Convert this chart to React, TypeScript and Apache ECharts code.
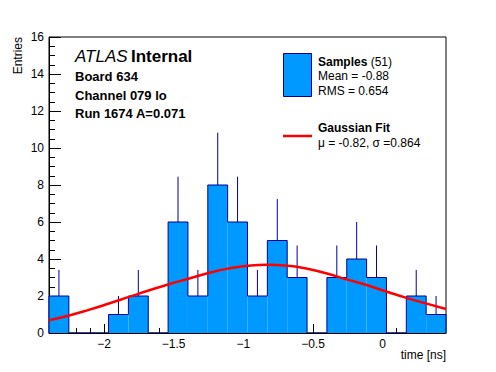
import React, { useEffect, useRef } from "react";
import * as echarts from "echarts";

// ---- data ----
const binStart = -2.395;
const binWidth = 0.1425;
const counts = [2, 0, 0, 1, 2, 0, 6, 2, 8, 6, 2, 5, 3, 0, 3, 4, 3, 0, 2, 1];
const errors = [1.41, 0, 0, 1, 1.41, 0, 2.45, 1.41, 2.83, 2.45, 1.41, 2.24, 1.73, 0, 1.73, 2, 1.73, 0, 1.41, 1];
const fitX = [-2.395, -2.25, -2.11, -1.97, -1.82, -1.68, -1.54, -1.4, -1.25, -1.11, -0.97, -0.83, -0.68, -0.54, -0.4, -0.26, -0.11, 0.03, 0.17, 0.31, 0.455];
const fitY = [0.69, 0.95, 1.25, 1.58, 1.95, 2.3, 2.62, 2.92, 3.24, 3.48, 3.63, 3.69, 3.64, 3.47, 3.22, 2.9, 2.58, 2.23, 1.9, 1.6, 1.3];
const xMajorTicks = [-2, -1.5, -1, -0.5, 0];
const xMinorTicks = [-2.3, -2.2, -2.1, -1.9, -1.8, -1.7, -1.6, -1.4, -1.3, -1.2, -1.1, -0.9, -0.8, -0.7, -0.6, -0.4, -0.3, -0.2, -0.1, 0.1, 0.2, 0.3, 0.4];
const yMin = 0;
const yMax = 16;
const yStep = 2;

const FONT = "'Liberation Sans', Arial, Helvetica, sans-serif";
const FILL = "#0099ff";
const DARK = "#000099";

export default function App() {
  const ref = useRef<HTMLDivElement>(null);
  useEffect(() => {
    document.body.style.margin = "0";
    if (!ref.current) return;
    const chart = echarts.init(ref.current, undefined, { renderer: "svg" });
    const xMin = binStart;
    const xMax = binStart + counts.length * binWidth;
    const bins = counts.map((c, i) => [binStart + i * binWidth, binStart + (i + 1) * binWidth, c, errors[i]]);
    const outline: number[][] = [[binStart, 0]];
    bins.forEach((b) => {
      outline.push([b[0], b[2]]);
      outline.push([b[1], b[2]]);
    });
    outline.push([xMax, 0]);
    const fit = fitX.map((x, i) => [x, fitY[i]]);
    const fmt = (v: number) => {
      const s = String(Math.round(v * 10) / 10);
      return s.replace("-", "\u2212");
    };
    const option: any = {
      animation: false,
      backgroundColor: "#fff",
      textStyle: { fontFamily: FONT },
      grid: { left: 49, right: 50, top: 37, bottom: 39, show: true, borderColor: "#000", borderWidth: 1, backgroundColor: "transparent" },
      xAxis: [
        {
          type: "value",
          min: xMin,
          max: xMax,
          position: "bottom",
          axisLine: { show: true, onZero: false, lineStyle: { color: "#000", width: 1 } },
          axisTick: { show: true, inside: true, length: 9, customValues: xMajorTicks, lineStyle: { color: "#000" } },
          axisLabel: { show: true, customValues: xMajorTicks, formatter: fmt, color: "#000", fontSize: 12, margin: 5, fontFamily: FONT },
          splitLine: { show: false },
        },
        {
          type: "value",
          min: xMin,
          max: xMax,
          position: "bottom",
          axisLine: { show: false },
          axisTick: { show: true, inside: true, length: 5, customValues: xMinorTicks, lineStyle: { color: "#000" } },
          axisLabel: { show: false },
          splitLine: { show: false },
        },
      ],
      yAxis: {
        type: "value",
        min: yMin,
        max: yMax,
        interval: yStep,
        axisLine: { show: true, onZero: false, lineStyle: { color: "#000", width: 1 } },
        axisTick: { show: true, inside: true, length: 12, lineStyle: { color: "#000" } },
        minorTick: { show: true, splitNumber: 4, length: 6, lineStyle: { color: "#000" } },
        axisLabel: { color: "#000", fontSize: 12, margin: 5, fontFamily: FONT },
        splitLine: { show: false },
      },
      series: [
        {
          type: "custom",
          data: bins,
          encode: { x: [0, 1], y: 2 },
          renderItem: (params: any, api: any) => {
            const p0 = api.coord([api.value(0), api.value(2)]);
            const p1 = api.coord([api.value(1), 0]);
            return {
              type: "rect",
              shape: { x: p0[0], y: p0[1], width: p1[0] - p0[0], height: p1[1] - p0[1] },
              style: { fill: FILL },
            };
          },
          z: 1,
        },
        {
          type: "custom",
          data: bins,
          encode: { x: [0, 1], y: 2 },
          renderItem: (params: any, api: any) => {
            if (api.value(3) <= 0) return null;
            const xc = (api.value(0) + api.value(1)) / 2;
            const a = api.coord([xc, api.value(2)]);
            const b = api.coord([xc, api.value(2) + api.value(3)]);
            return {
              type: "line",
              shape: { x1: a[0], y1: a[1], x2: b[0], y2: b[1] },
              style: { stroke: DARK, lineWidth: 1 },
            };
          },
          z: 2,
        },
        {
          type: "line",
          data: outline,
          symbol: "none",
          lineStyle: { color: DARK, width: 1 },
          z: 3,
        },
        {
          type: "line",
          data: fit,
          smooth: true,
          symbol: "none",
          lineStyle: { color: "#ff0000", width: 2.5 },
          z: 4,
        },
      ],
      graphic: [
        {
          type: "text",
          left: 75,
          top: 48,
          style: {
            text: "{i|ATLAS} {b|Internal}",
            rich: {
              i: { fontStyle: "italic", fontSize: 17, fontFamily: FONT, fill: "#000" },
              b: { fontWeight: "bold", fontSize: 17, fontFamily: FONT, fill: "#000" },
            },
          },
        },
        { type: "text", x: 75, y: 76, style: { text: "Board 634", font: `bold 13px ${FONT}`, fill: "#000", textVerticalAlign: "middle" } },
        { type: "text", x: 75, y: 95, style: { text: "Channel 079 lo", font: `bold 13px ${FONT}`, fill: "#000", textVerticalAlign: "middle" } },
        { type: "text", x: 75, y: 113.5, style: { text: "Run 1674 A=0.071", font: `bold 13px ${FONT}`, fill: "#000", textVerticalAlign: "middle" } },
        { type: "rect", shape: { x: 283.5, y: 53.5, width: 28, height: 43 }, style: { fill: FILL, stroke: DARK, lineWidth: 1 } },
        {
          type: "text",
          x: 318,
          y: 61.5,
          style: {
            text: "{b|Samples} (51)",
            font: `12px ${FONT}`,
            fill: "#000",
            textVerticalAlign: "middle",
            rich: { b: { fontWeight: "bold", fontSize: 12, fontFamily: FONT, fill: "#000" } },
          },
        },
        { type: "text", x: 318, y: 76, style: { text: "Mean = -0.88", font: `12px ${FONT}`, fill: "#000", textVerticalAlign: "middle" } },
        { type: "text", x: 318, y: 90.5, style: { text: "RMS = 0.654", font: `12px ${FONT}`, fill: "#000", textVerticalAlign: "middle" } },
        { type: "line", shape: { x1: 283, y1: 136, x2: 312, y2: 136 }, style: { stroke: "#ff0000", lineWidth: 2.5 } },
        { type: "text", x: 318, y: 128, style: { text: "Gaussian Fit", font: `bold 12px ${FONT}`, fill: "#000", textVerticalAlign: "middle" } },
        { type: "text", x: 318, y: 142.5, style: { text: "\u03bc = -0.82, \u03c3 =0.864", font: `12px ${FONT}`, fill: "#000", textVerticalAlign: "middle" } },
        { type: "text", x: 446, y: 355, style: { text: "time [ns]", font: `12px ${FONT}`, fill: "#000", textAlign: "right", textVerticalAlign: "middle" } },
        { type: "text", x: 18, y: 37, rotation: Math.PI / 2, style: { text: "Entries", font: `12px ${FONT}`, fill: "#000", textAlign: "right", textVerticalAlign: "middle" } },
      ],
    };
    chart.setOption(option);
    return () => chart.dispose();
  }, []);
  return <div ref={ref} style={{ width: 496, height: 372, background: "#fff" }} />;
}
